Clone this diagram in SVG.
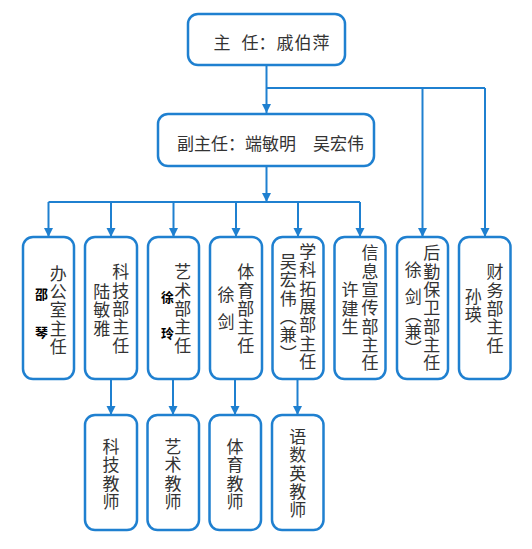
<svg xmlns="http://www.w3.org/2000/svg" width="532" height="549" viewBox="0 0 532 549">
<defs>
<style>
.box{fill:#fff;stroke:#1f80d0;stroke-width:2.5}
.ln{fill:none;stroke:#1f80d0;stroke-width:2}
.ar{marker-end:url(#arr)}
.t{font-family:"Noto Sans CJK SC","Noto Sans",sans-serif;font-size:17px;fill:#333;text-anchor:middle;dominant-baseline:central}
.v{font-family:"Noto Sans CJK SC","Noto Sans",sans-serif;font-size:17px;fill:#333;writing-mode:vertical-rl;letter-spacing:1.3px}
.b{font-family:"Noto Sans CJK SC","Noto Sans",sans-serif;font-size:13px;font-weight:bold;fill:#000;writing-mode:vertical-rl}
</style>
<marker id="arr" markerUnits="userSpaceOnUse" markerWidth="10" markerHeight="10" refX="9" refY="4.5" orient="auto" viewBox="0 0 10 9">
<path d="M0,0 L9,4.5 L0,9 z" fill="#1f80d0"/>
</marker>
</defs>
<rect width="532" height="549" fill="#fff"/>
<g id="connectors">
<path class="ln ar" d="M266.5 65 V113"/>
<path class="ln" d="M266.5 88 H485"/>
<path class="ln ar" d="M422.5 88 V237"/>
<path class="ln ar" d="M485 88 V237"/>
<path class="ln ar" d="M266.5 166 V202"/>
<path class="ln" d="M48.5 202 H360"/>
<path class="ln ar" d="M48.5 202 V237"/>
<path class="ln ar" d="M111 202 V237"/>
<path class="ln ar" d="M173.5 202 V237"/>
<path class="ln ar" d="M236 202 V237"/>
<path class="ln ar" d="M298 202 V237"/>
<path class="ln ar" d="M360 202 V237"/>
<path class="ln ar" d="M111 379 V415"/>
<path class="ln ar" d="M173 379 V415"/>
<path class="ln ar" d="M235 379 V415"/>
<path class="ln ar" d="M297.5 379 V415"/>
</g>
<g id="director">
<rect class="box" x="188" y="14" width="157" height="51" rx="10"/>
<text class="t" y="41"><tspan x="222">主</tspan><tspan x="250">任</tspan><tspan x="267">：</tspan><tspan x="285">戚</tspan><tspan x="303">伯</tspan><tspan x="321">萍</tspan></text>
</g>
<g id="deputy">
<rect class="box" x="158" y="114" width="216" height="52" rx="10"/>
<text class="t" x="270.5" y="142">副主任：端敏明　吴宏伟</text>
</g>
<g id="office">
<rect class="box" x="23" y="237" width="51" height="142" rx="10"/>
<text class="v" x="58.3" y="264.8">办公室主任</text>
<text class="b" x="41.5" y="287.5" style="letter-spacing:25px">邵琴</text>
</g>
<g id="tech">
<rect class="box" x="85" y="237" width="52" height="142" rx="10"/>
<text class="v" x="120.7" y="263.5">科技部主任</text>
<text class="v" x="101.7" y="283.2">陆敏雅</text>
</g>
<g id="art">
<rect class="box" x="148" y="237" width="51" height="142" rx="10"/>
<text class="v" x="182.7" y="263.5">艺术部主任</text>
<text class="b" x="167.5" y="290.5" style="letter-spacing:23px">徐玲</text>
</g>
<g id="pe">
<rect class="box" x="210" y="237" width="52" height="142" rx="10"/>
<text class="v" x="245.7" y="263.5">体育部主任</text>
<text class="v" x="226" y="286.5" style="letter-spacing:9.7px">徐剑</text>
</g>
<g id="subject">
<rect class="box" x="272.5" y="237" width="51" height="142" rx="10"/>
<text class="v" x="307.7" y="243.2">学科拓展部主任</text>
<text class="v" x="288.3" y="253.2">吴宏伟（兼）</text>
</g>
<g id="info">
<rect class="box" x="334.5" y="237" width="51" height="142" rx="10"/>
<text class="v" x="370" y="244.5">信息宣传部主任</text>
<text class="v" x="350" y="281.5">许建生</text>
</g>
<g id="logistics">
<rect class="box" x="397" y="237" width="51" height="142" rx="10"/>
<text class="v" x="431.7" y="244.5">后勤保卫部主任</text>
<text class="v" x="413.3" y="261.5" style="letter-spacing:9.7px">徐剑</text>
<text class="v" x="413.3" y="306.5" style="letter-spacing:-0.3px">（兼）</text>
</g>
<g id="finance">
<rect class="box" x="459" y="237" width="51.5" height="142" rx="10"/>
<text class="v" x="495" y="263.5">财务部主任</text>
<text class="v" x="473.3" y="288.2">孙瑛</text>
</g>
<g id="tech-teachers">
<rect class="box" x="85" y="415" width="52" height="115" rx="10"/>
<text class="v" x="111" y="438.2">科技教师</text>
</g>
<g id="art-teachers">
<rect class="box" x="147.5" y="415" width="51.5" height="115" rx="10"/>
<text class="v" x="173" y="438.2">艺术教师</text>
</g>
<g id="pe-teachers">
<rect class="box" x="209.5" y="415" width="51.5" height="115" rx="10"/>
<text class="v" x="235" y="438.2">体育教师</text>
</g>
<g id="lang-teachers">
<rect class="box" x="272" y="415" width="51.5" height="115" rx="10"/>
<text class="v" x="297.7" y="428.2">语数英教师</text>
</g>
</svg>
